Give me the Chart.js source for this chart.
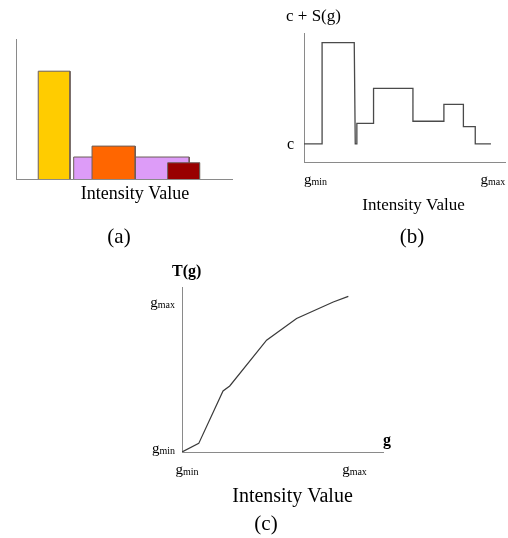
<!DOCTYPE html>
<html><head><meta charset="utf-8">
<script src="https://cdn.jsdelivr.net/npm/chart.js@4/dist/chart.umd.min.js"></script>
<style>
html,body{margin:0;padding:0;background:#fff;}
#wrap{position:relative;width:508px;height:538px;overflow:hidden;}
canvas{position:absolute;left:0;top:0;}
</style></head><body>
<div id="wrap">
<canvas id="ca" width="508" height="538"></canvas>
<canvas id="cb" width="508" height="538"></canvas>
<canvas id="cc" width="508" height="538"></canvas>
</div>
<script>
// (a) histogram bins: left edge, right edge, height
const binLeft = [10.3, 35.2, 70.2, 26.7];
const binRight = [25.0, 55.2, 85.0, 80.2];
const binHeight = [77.0, 23.5, 11.6, 15.7];
const binColors = ['#ffcc00', '#ff6600', '#990000', '#dd9cf8'];

// (b) step function c + S(g)
const sX = [0, 9, 9, 25, 25.5, 26.3, 26.3, 34.6, 34.6, 54.2, 54.2, 69.6, 69.6, 79.3, 79.3, 85.2, 85.2, 93];
const sY = [14, 14, 92.5, 92.5, 14, 14, 30, 30, 57.1, 57.1, 31.6, 31.6, 44.7, 44.7, 27.4, 27.4, 14, 14];
const cLevel = 14;
const bXTicks = [0, 94];
const bXLabels = ['min', 'max'];

// (c) transfer curve T(g)
const tX = [0, 10, 24.5, 28.5, 50.5, 68.4, 90.3, 99.3];
const tY = [0, 5.8, 41.1, 44.4, 75.2, 89.8, 100.9, 104.7];
const cTicks = [0, 100];
const cLabels = ['min', 'max'];

const serif = '"Liberation Serif", "Times New Roman", serif';

function txt(ctx, s, x, y, size, align, bold) {
  ctx.save();
  ctx.font = (bold ? 'bold ' : '') + size + 'px ' + serif;
  ctx.fillStyle = '#000';
  ctx.textAlign = align || 'left';
  ctx.textBaseline = 'alphabetic';
  ctx.fillText(s, x, y);
  ctx.restore();
}

// "g" with a small subscript, e.g. g_min
function gsub(ctx, sub, x, y, align) {
  ctx.save();
  ctx.fillStyle = '#000';
  ctx.textBaseline = 'alphabetic';
  ctx.textAlign = 'left';
  ctx.font = '15px ' + serif;
  const wg = ctx.measureText('g').width;
  ctx.font = '10px ' + serif;
  const ws = ctx.measureText(sub).width;
  let x0 = x;
  if (align === 'center') x0 = x - (wg + ws) / 2;
  if (align === 'right') x0 = x - wg - ws;
  ctx.font = '15px ' + serif;
  ctx.fillText('g', x0, y);
  ctx.font = '10px ' + serif;
  ctx.fillText(sub, x0 + wg, y + 1);
  ctx.restore();
}

function axis(max) {
  return {
    type: 'linear', min: 0, max: max,
    grid: { display: false, drawTicks: false },
    ticks: { display: false },
    border: { color: '#8a8a8a', width: 1 }
  };
}

function baseOptions(pad, xmax, ymax) {
  return {
    responsive: false,
    animation: false,
    devicePixelRatio: 1,
    layout: { padding: pad },
    plugins: { legend: { display: false }, tooltip: { enabled: false } },
    scales: { x: axis(xmax), y: axis(ymax) }
  };
}

// panel (a)
new Chart(document.getElementById('ca'), {
  type: 'line',
  data: {
    datasets: binLeft.map((l, i) => ({
      data: [{x: l, y: 0}, {x: l, y: binHeight[i]}, {x: binRight[i], y: binHeight[i]}, {x: binRight[i], y: 0}],
      backgroundColor: binColors[i],
      borderColor: '#6b5d58',
      borderWidth: 1,
      fill: 'origin',
      pointRadius: 0,
      tension: 0
    }))
  },
  options: baseOptions({left: 16, top: 39, right: 276, bottom: 359}, 100, 100),
  plugins: [{
    id: 'textA',
    afterDraw(chart) {
      const ctx = chart.ctx;
      txt(ctx, 'Intensity Value', 135, 199, 18, 'center');
      txt(ctx, '(a)', 119, 243, 21, 'center');
    }
  }]
});

// panel (b)
new Chart(document.getElementById('cb'), {
  type: 'line',
  data: {
    datasets: [{
      data: sX.map((x, i) => ({x: x, y: sY[i]})),
      borderColor: '#4a4a4a',
      borderWidth: 1.3,
      fill: false,
      pointRadius: 0,
      tension: 0
    }]
  },
  options: baseOptions({left: 304, top: 33, right: 3, bottom: 376}, 100, 100),
  plugins: [{
    id: 'textB',
    afterDraw(chart) {
      const ctx = chart.ctx, xs = chart.scales.x, ys = chart.scales.y;
      txt(ctx, 'c + S(g)', 286, 21, 17, 'left');
      txt(ctx, 'c', 294, ys.getPixelForValue(cLevel) + 5, 16, 'right');
      bXTicks.forEach((v, i) => gsub(ctx, bXLabels[i], xs.getPixelForValue(v), 184, i === 0 ? 'left' : 'center'));
      txt(ctx, 'Intensity Value', 413.5, 210, 17, 'center');
      txt(ctx, '(b)', 412, 243, 21, 'center');
    }
  }]
});

// panel (c)
new Chart(document.getElementById('cc'), {
  type: 'line',
  data: {
    datasets: [{
      data: tX.map((x, i) => ({x: x, y: tY[i]})),
      borderColor: '#3a3a3a',
      borderWidth: 1.2,
      fill: false,
      pointRadius: 0,
      tension: 0
    }]
  },
  options: baseOptions({left: 182, top: 287, right: 125, bottom: 86}, 120, 111),
  plugins: [{
    id: 'textC',
    afterDraw(chart) {
      const ctx = chart.ctx, xs = chart.scales.x, ys = chart.scales.y;
      txt(ctx, 'T(g)', 172, 276, 16, 'left', true);
      cTicks.forEach((v, i) => gsub(ctx, cLabels[i], 175, ys.getPixelForValue(v) + (i === 0 ? 1 : 4), 'right'));
      cTicks.forEach((v, i) => gsub(ctx, cLabels[i], xs.getPixelForValue(v) + 5, 474, 'center'));
      txt(ctx, 'g', 383, 445, 16, 'left', true);
      txt(ctx, 'Intensity Value', 292.5, 502, 20, 'center');
      txt(ctx, '(c)', 266, 530, 21, 'center');
    }
  }]
});
</script>
</body></html>
